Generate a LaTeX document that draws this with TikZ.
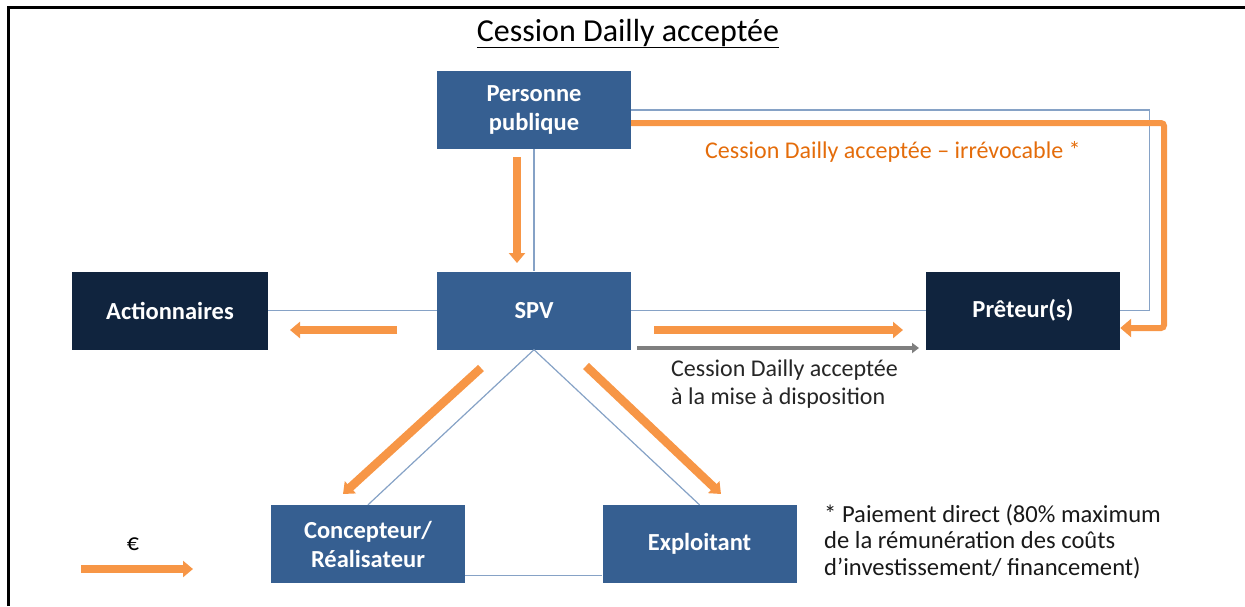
\documentclass[tikz,border=0pt]{standalone}
\usepackage{fontspec}
\setmainfont{Carlito}
\usetikzlibrary{arrows.meta}
\definecolor{boxblue}{HTML}{365F91}
\definecolor{navy}{HTML}{10243E}
\definecolor{orarrow}{HTML}{F79646}
\definecolor{ortext}{HTML}{E46C0A}
\definecolor{thinblue}{HTML}{86A2C6}
\definecolor{grayarrow}{HTML}{7F7F7F}
\tikzset{
  boxbase/.style={minimum width=194pt, minimum height=78pt, inner sep=0pt, align=center,
    text=white, font=\fontsize{24.5}{29}\selectfont\bfseries},
  bluebox/.style={boxbase, fill=boxblue},
  navybox/.style={boxbase, fill=navy},
  thinline/.style={draw=thinblue, line width=1.2pt},
  money/.style={draw=orarrow, line width=8.5pt, -{Triangle[width=16pt,length=10pt]}},
  moneythin/.style={draw=orarrow, line width=6pt, rounded corners=3pt, -{Triangle[width=18pt,length=11pt]}},
  grayarr/.style={draw=grayarrow, line width=4.5pt, -{Triangle[width=10pt,length=7pt]}},
  lbl/.style={inner sep=0pt, font=\fontsize{24}{28}\selectfont}
}
\begin{document}
\begin{tikzpicture}[x=1pt,y=-1pt]
\useasboundingbox (0,0) rectangle (1245,606);
\draw[line width=3pt] (8,606) -- (8,7) -- (1245,7);
\node[lbl, font=\fontsize{32}{36}\selectfont, anchor=base] (title) at (628,41) {\underline{Cession Dailly acceptée}};

\node[bluebox] (pp) at (534,110) {Personne\\publique};
\node[bluebox] (spv) at (534,310.5) {SPV};
\node[navybox, minimum width=196pt] (act) at (170,310.5) {Actionnaires};
\node[navybox] (pret) at (1023,310.5) {Prêteur(s)};
\node[bluebox] (conc) at (368,544) {Concepteur/\\Réalisateur};
\node[bluebox] (expl) at (699.5,544) {Exploitant};

% thin connectors
\draw[thinline] (pp.south) -- (spv.north);
\draw[thinline] (act.east) -- (spv.west);
\draw[thinline] (spv.east) -- (pret.west);
\draw[thinline] (pp.east) -- ++(518,0) |- (pret.east);
\draw[thinline] (spv.south) -- (conc.north);
\draw[thinline] (spv.south) -- (expl.north);
\draw[thinline] ([yshift=8pt]conc.south east) -- ([yshift=8pt]expl.south west);

% orange money arrows
\coordinate (d1) at (517,157); \coordinate (d2) at (517,263);
\draw[money] (d1) -- (d2);
\coordinate (l1) at (397,330); \coordinate (l2) at (290,330);
\draw[money] (l1) -- (l2);
\coordinate (r1) at (654,330); \coordinate (r2) at (903,330);
\draw[money] (r1) -- (r2);
\coordinate (dl1) at (481,368); \coordinate (dl2) at (343,494);
\draw[money] (dl1) -- (dl2);
\coordinate (dr1) at (586,366); \coordinate (dr2) at (721,494);
\draw[money] (dr1) -- (dr2);
\draw[moneythin] ([yshift=-13pt]pp.east) -- (1164,123) -- (1164,328) -- ([yshift=-17.5pt]pret.east);

% gray arrow
\coordinate (g1) at (637,348); \coordinate (g2) at (919,348);
\draw[grayarr] (g1) -- (g2);

% labels
\node[lbl, text=ortext, anchor=base west] (lab1) at (705,158) {Cession Dailly acceptée – irrévocable *};
\node[lbl, text=black!85, anchor=north west, align=left] (lab2) at (671,360) {Cession Dailly acceptée\\à la mise à disposition};
\node[lbl, text=black!90, anchor=north west, align=left, font=\fontsize{24.6}{26.8}\selectfont] (foot) at (824,504) {* Paiement direct (80\%~maximum\\de la rémunération des coûts\\d’investissement/~financement)};

% legend
\node[lbl] (euro) at (133,544) {€};
\coordinate (e1) at (81,569); \coordinate (e2) at (193,569);
\draw[money] (e1) -- (e2);
\end{tikzpicture}
\end{document}
